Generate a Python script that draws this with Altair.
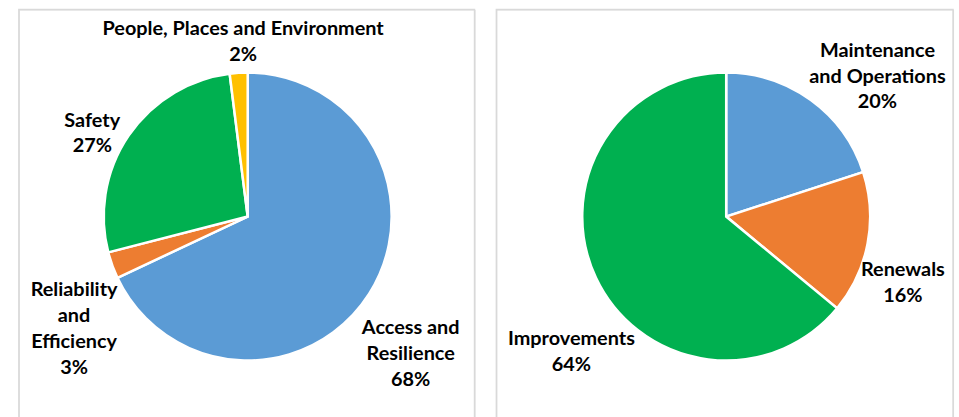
import altair as alt
import pandas as pd

# ---- data ----
left_cats = ["Access and Resilience", "Reliability and Efficiency", "Safety", "People, Places and Environment"]
left_vals = [68, 3, 27, 2]
left_labels = ["Access and\nResilience\n68%", "Reliability\nand\nEfficiency\n3%", "Safety\n27%",
               "People, Places and Environment\n2%"]

right_cats = ["Maintenance and Operations", "Renewals", "Improvements"]
right_vals = [20, 16, 64]
right_labels = ["Maintenance\nand Operations\n20%", "Renewals\n16%", "Improvements\n64%"]

# ---- layout (label polar placement of first line: angle in degrees clockwise from top, radius px) ----
left_lab_ang = [124.4, 247.0, 301.7, 358.6]
left_lab_rad = [199, 190, 184, 189]
right_lab_ang = [42.4, 106.9, 231.6]
right_lab_rad = [226, 186, 199]

left_colors = ["#5B9BD5", "#ED7D31", "#00B050", "#FFC000"]
right_colors = ["#5B9BD5", "#ED7D31", "#00B050"]

FONT = "Lato"
H = 411
R = 145


def panel(cats, vals, labels, angs, rads, colors, w, cx):
    df = pd.DataFrame({"cat": cats, "value": vals, "idx": list(range(len(cats))),
                       "label": labels, "ang": angs, "rad": rads})
    base = alt.Chart(df)
    border = base.mark_rect(fill=None, stroke="#d9d9d9", strokeWidth=1.5).encode(
        x=alt.value(0), x2=alt.value(w), y=alt.value(0), y2=alt.value(H + 30)
    ).transform_filter("datum.idx == 0")
    arcs = base.mark_arc(outerRadius=R, stroke="white", strokeWidth=2.5).encode(
        theta=alt.Theta("value:Q", stack=True),
        order=alt.Order("idx:Q", sort="ascending"),
        color=alt.Color("cat:N", scale=alt.Scale(domain=cats, range=colors), legend=None),
        x=alt.value(cx), y=alt.value(208.5),
    )
    text = base.mark_text(font=FONT, fontWeight="bold", fontSize=20, lineBreak="\n",
                          lineHeight=26, align="center", baseline="middle", color="black").encode(
        theta=alt.Theta("ang:Q", scale=alt.Scale(domain=[0, 360], range=[0, 6.283185307179586])),
        radius=alt.Radius("rad:Q", scale=None),
        text="label:N",
        x=alt.value(cx), y=alt.value(208.5),
    )
    return alt.layer(border, arcs, text).resolve_scale(theta="independent").properties(width=w, height=H)


left = panel(left_cats, left_vals, left_labels, left_lab_ang, left_lab_rad, left_colors, 459, 230.5)
right = panel(right_cats, right_vals, right_labels, right_lab_ang, right_lab_rad, right_colors, 460, 231.5)

chart = alt.hconcat(left, right, spacing=18).properties(
    padding={"left": 17, "top": 6, "right": 4, "bottom": 0}
).configure_view(stroke=None).configure(background="white")

chart.save("out.html", embed_options={"renderer": "svg", "actions": False})
